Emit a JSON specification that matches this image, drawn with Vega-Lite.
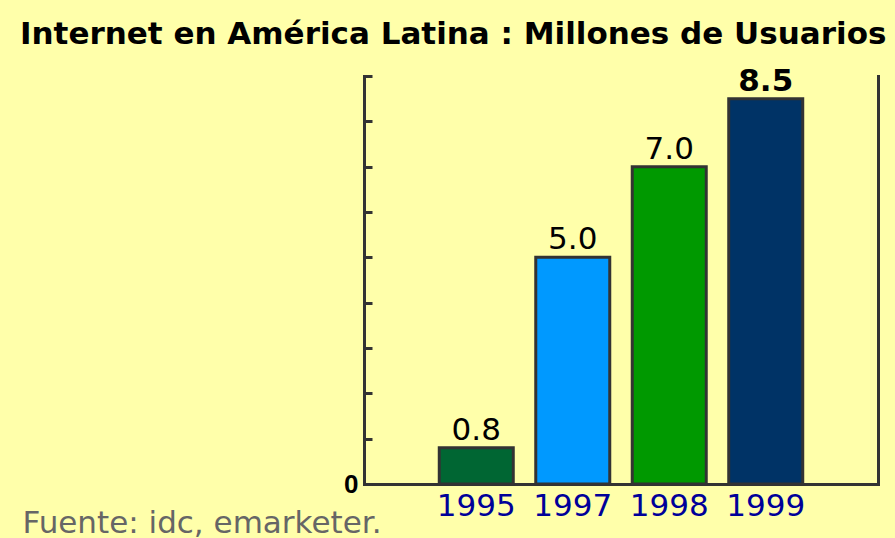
{
  "$schema": "https://vega.github.io/schema/vega-lite/v6.json",
  "width": 514,
  "height": 408,
  "autosize": {"type": "none"},
  "padding": {"left": 364, "top": 76, "right": 17, "bottom": 54},
  "background": "#FFFFAA",
  "config": {"view": {"stroke": null}},
  "title": {
    "text": "Internet en América Latina : Millones de Usuarios",
    "anchor": "start",
    "frame": "group",
    "dx": -344,
    "offset": 30,
    "dy": 39,
    "baseline": "alphabetic",
    "font": "DejaVu Sans",
    "fontSize": 31,
    "fontWeight": "bold",
    "color": "#000000"
  },
  "data": {
    "values": [
      {"year": "1995", "value": 0.8},
      {"year": "1997", "value": 5.0},
      {"year": "1998", "value": 7.0},
      {"year": "1999", "value": 8.5}
    ]
  },
  "encoding": {
    "x": {
      "field": "year",
      "type": "nominal",
      "sort": null,
      "scale": {"paddingInner": 0.233, "paddingOuter": 0.78, "align": 0.5},
      "axis": {
        "title": "Fuente: idc, emarketer.",
        "titleX": -342,
        "titleY": 48,
        "titleAlign": "left",
        "titleBaseline": "alphabetic",
        "titleColor": "#666666",
        "titleFont": "DejaVu Sans",
        "titleFontSize": 31,
        "titleFontWeight": "normal",
        "labelAngle": 0,
        "labelColor": "#000099",
        "labelFont": "DejaVu Sans",
        "labelFontSize": 31,
        "labelPadding": 7,
        "ticks": false,
        "grid": false,
        "domainColor": "#333333",
        "domainWidth": 3
      }
    }
  },
  "layer": [
    {
      "mark": {"type": "bar", "stroke": "#333333", "strokeWidth": 3},
      "encoding": {
        "y": {
          "field": "value",
          "type": "quantitative",
          "scale": {"domain": [0, 9], "nice": false},
          "axis": {
            "values": [0, 1, 2, 3, 4, 5, 6, 7, 8, 9],
            "title": null,
            "grid": false,
            "domainColor": "#333333",
            "domainWidth": 3,
            "domainCap": "square",
            "tickColor": "#333333",
            "tickWidth": 3,
            "tickSize": -8,
            "labelExpr": "datum.value === 0 ? '0' : ''",
            "labelFont": "Liberation Sans Narrow, Liberation Sans",
            "labelFontWeight": "bold",
            "labelFontSize": 26,
            "labelColor": "#000000",
            "labelPadding": 14,
            "labelBaseline": "middle",
            "labelDy": -3
          }
        },
        "color": {
          "field": "year",
          "type": "nominal",
          "scale": {
            "domain": ["1995", "1997", "1998", "1999"],
            "range": ["#006633", "#0099FF", "#009900", "#003366"]
          },
          "legend": null
        }
      }
    },
    {
      "transform": [{"filter": "datum.year != '1999'"}],
      "mark": {
        "type": "text",
        "baseline": "alphabetic",
        "dy": -8,
        "font": "DejaVu Sans",
        "fontSize": 31,
        "color": "#000000"
      },
      "encoding": {
        "y": {
          "field": "value",
          "type": "quantitative",
          "scale": {"domain": [0, 9], "nice": false},
          "axis": {
            "orient": "right",
            "ticks": false,
            "labels": false,
            "grid": false,
            "title": null,
            "domainColor": "#333333",
            "domainWidth": 3,
            "domainCap": "square"
          }
        },
        "text": {"field": "value", "type": "quantitative", "format": ".1f"}
      }
    },
    {
      "transform": [{"filter": "datum.year == '1999'"}],
      "mark": {
        "type": "text",
        "baseline": "alphabetic",
        "dy": -8,
        "font": "DejaVu Sans",
        "fontSize": 31,
        "fontWeight": "bold",
        "color": "#000000"
      },
      "encoding": {
        "y": {
          "field": "value",
          "type": "quantitative",
          "scale": {"domain": [0, 9], "nice": false},
          "axis": null
        },
        "text": {"field": "value", "type": "quantitative", "format": ".1f"}
      }
    }
  ],
  "resolve": {"axis": {"y": "independent"}}
}
